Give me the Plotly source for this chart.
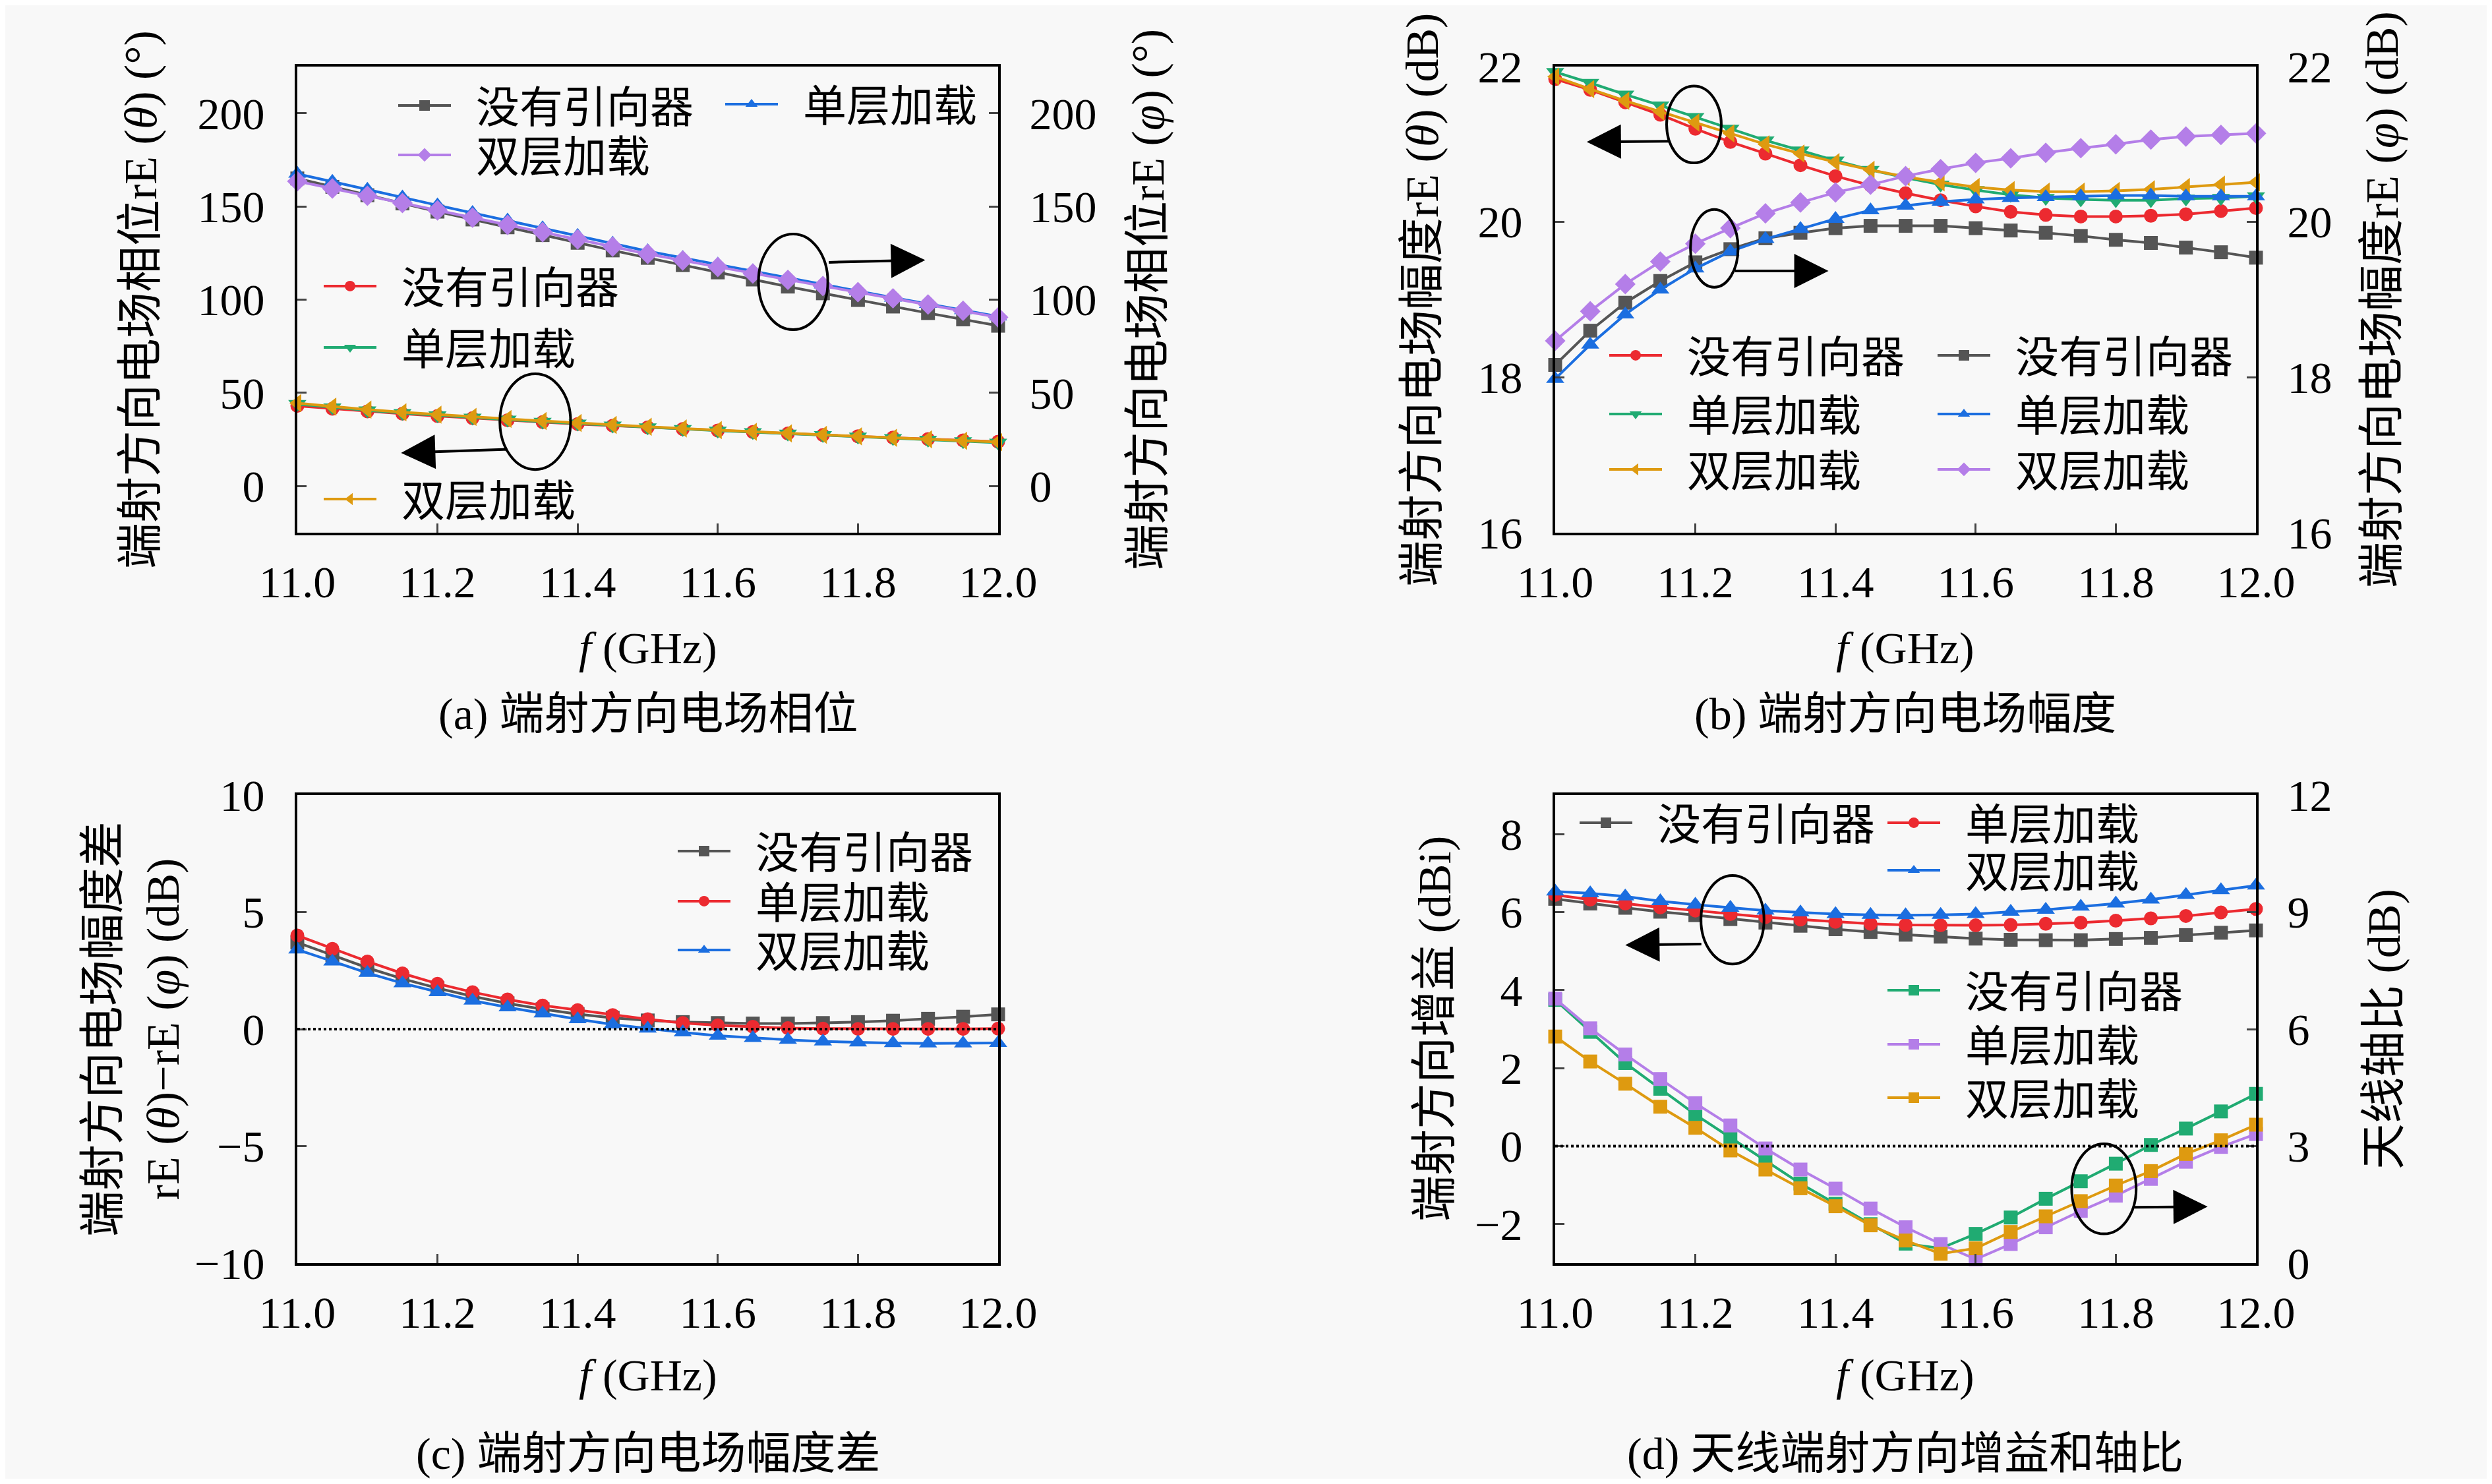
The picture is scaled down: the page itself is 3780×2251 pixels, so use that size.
import plotly.graph_objects as go

W, H = 3780, 2251
# the page body keeps an 8 px margin, so the figure is a little smaller than the window
FW, FH = W - 16, H - 16
FONT = "Liberation Serif, Noto Sans CJK SC, serif"

# frequency points (GHz)
freq = [11.0, 11.05, 11.1, 11.15, 11.2, 11.25, 11.3, 11.35, 11.4, 11.45, 11.5,
        11.55, 11.6, 11.65, 11.7, 11.75, 11.8, 11.85, 11.9, 11.95, 12.0]

# (a) phase, right axis rE(phi)
a_phi_none = [165.0, 160.5, 156.0, 151.6, 147.2, 143.0, 138.8, 134.6, 130.5, 126.4, 122.4,
              118.5, 114.6, 110.8, 107.0, 103.4, 99.8, 96.3, 92.8, 89.4, 86.0]
a_phi_single = [167.5, 163.2, 159.0, 154.8, 150.6, 146.5, 142.4, 138.3, 134.2, 130.1, 126.0,
                122.4, 118.8, 115.2, 111.6, 108.1, 104.6, 101.1, 97.7, 94.3, 91.0]
a_phi_double = [163.5, 159.6, 155.7, 151.8, 147.9, 144.0, 140.1, 136.2, 132.3, 128.4, 124.5,
                121.0, 117.5, 114.0, 110.6, 107.3, 104.0, 100.7, 97.4, 94.0, 90.5]
# (a) phase, left axis rE(theta)
a_theta_none = [43.0, 41.5, 40.1, 38.8, 37.6, 36.4, 35.3, 34.3, 33.3, 32.4, 31.5,
                30.6, 29.8, 29.0, 28.2, 27.4, 26.7, 26.0, 25.2, 24.5, 23.8]
a_theta_single = [44.0, 42.2, 40.6, 39.2, 37.9, 36.7, 35.6, 34.5, 33.5, 32.5, 31.5,
                  30.6, 29.7, 28.9, 28.1, 27.3, 26.5, 25.7, 24.9, 24.1, 23.3]
a_theta_double = [44.5, 42.6, 41.0, 39.6, 38.3, 37.1, 36.0, 34.9, 33.8, 32.8, 31.8,
                  30.9, 30.0, 29.1, 28.3, 27.5, 26.7, 25.9, 25.1, 24.3, 23.6]

# (b) magnitude, left axis rE(theta)
b_theta_none = [21.84, 21.70, 21.54, 21.38, 21.20, 21.03, 20.88, 20.73, 20.59, 20.47, 20.37,
                20.28, 20.20, 20.13, 20.09, 20.07, 20.07, 20.08, 20.10, 20.14, 20.18]
b_theta_single = [21.93, 21.79, 21.64, 21.50, 21.35, 21.20, 21.05, 20.92, 20.79, 20.67, 20.57,
                  20.48, 20.41, 20.35, 20.31, 20.29, 20.28, 20.28, 20.30, 20.31, 20.33]
b_theta_double = [21.87, 21.71, 21.56, 21.42, 21.28, 21.14, 21.00, 20.88, 20.77, 20.67, 20.58,
                  20.51, 20.45, 20.41, 20.39, 20.39, 20.40, 20.42, 20.45, 20.48, 20.51]
# (b) magnitude, right axis rE(phi)
b_phi_none = [18.16, 18.60, 18.96, 19.24, 19.48, 19.65, 19.79, 19.86, 19.92, 19.95, 19.95,
              19.95, 19.92, 19.89, 19.86, 19.82, 19.77, 19.73, 19.67, 19.61, 19.54]
b_phi_single = [17.98, 18.42, 18.81, 19.13, 19.40, 19.62, 19.78, 19.91, 20.04, 20.15, 20.21,
                20.26, 20.29, 20.31, 20.32, 20.33, 20.34, 20.34, 20.33, 20.33, 20.33]
b_phi_double = [18.47, 18.85, 19.20, 19.49, 19.72, 19.92, 20.11, 20.25, 20.38, 20.48, 20.59,
                20.68, 20.76, 20.82, 20.89, 20.95, 21.00, 21.06, 21.10, 21.12, 21.14]

# (c) magnitude difference
c_none = [3.70, 3.16, 2.62, 2.15, 1.75, 1.40, 1.10, 0.85, 0.64, 0.48, 0.37,
          0.30, 0.26, 0.24, 0.24, 0.26, 0.30, 0.36, 0.44, 0.53, 0.63]
c_single = [4.00, 3.43, 2.89, 2.38, 1.94, 1.58, 1.27, 1.01, 0.81, 0.60, 0.42,
            0.26, 0.16, 0.10, 0.04, 0.02, 0.01, 0.01, 0.01, 0.01, 0.02]
c_double = [3.40, 2.89, 2.40, 1.96, 1.58, 1.22, 0.93, 0.67, 0.42, 0.20, 0.02,
            -0.14, -0.28, -0.38, -0.46, -0.53, -0.57, -0.60, -0.61, -0.61, -0.59]

# (d) gain (dBi), left axis
d_gain_none = [6.34, 6.22, 6.11, 6.01, 5.92, 5.82, 5.73, 5.65, 5.56, 5.49, 5.42,
               5.37, 5.32, 5.29, 5.28, 5.28, 5.31, 5.34, 5.41, 5.47, 5.53]
d_gain_single = [6.44, 6.32, 6.22, 6.12, 6.04, 5.95, 5.87, 5.81, 5.75, 5.70, 5.67,
                 5.66, 5.66, 5.67, 5.70, 5.73, 5.78, 5.84, 5.90, 5.99, 6.08]
d_gain_double = [6.53, 6.48, 6.40, 6.28, 6.19, 6.11, 6.04, 5.99, 5.95, 5.93, 5.92,
                 5.93, 5.95, 6.01, 6.06, 6.14, 6.22, 6.32, 6.44, 6.56, 6.68]
# (d) axial ratio (dB), right axis
d_ar_none = [6.75, 5.93, 5.13, 4.47, 3.81, 3.22, 2.64, 2.04, 1.52, 1.00, 0.50,
             0.38, 0.75, 1.17, 1.65, 2.10, 2.55, 3.03, 3.45, 3.89, 4.34]
d_ar_single = [6.78, 6.02, 5.35, 4.72, 4.10, 3.53, 2.94, 2.40, 1.91, 1.40, 0.92,
               0.49, 0.10, 0.49, 0.92, 1.34, 1.73, 2.16, 2.60, 2.98, 3.31]
d_ar_double = [5.81, 5.17, 4.60, 4.01, 3.47, 2.89, 2.40, 1.92, 1.46, 0.97, 0.58,
               0.24, 0.38, 0.80, 1.20, 1.59, 1.99, 2.36, 2.80, 3.15, 3.55]

# colours
gray = "#555555"
blue = "#1b6ee0"
purple = "#b47ee8"
red = "#ec2a30"
green = "#20ab72"
orange = "#de9a10"
bg = "#f8f8f8"

sizes = {"square": 21, "circle": 21, "triangle-up": 24, "triangle-down": 24,
         "triangle-left": 24, "diamond": 24}


def px_x(X):
    return (X - 8) / FW


def px_y(Y):
    return 1 - (Y - 8) / FH


# name, x axis, y axis, values, colour, symbol, legend spot (px: line start, row centre)
series = [
    ("没有引向器", "x", "y2", a_phi_none, gray, "square", (607, 160)),
    ("单层加载", "x", "y2", a_phi_single, blue, "triangle-up", (1103, 158)),
    ("双层加载", "x", "y2", a_phi_double, purple, "diamond", (607, 235)),
    ("没有引向器", "x", "y", a_theta_none, red, "circle", (494, 434)),
    ("单层加载", "x", "y", a_theta_single, green, "triangle-down", (494, 527)),
    ("双层加载", "x", "y", a_theta_double, orange, "triangle-left", (494, 757)),

    ("没有引向器", "x2", "y3", b_theta_none, red, "circle", (2444, 539)),
    ("单层加载", "x2", "y3", b_theta_single, green, "triangle-down", (2444, 628)),
    ("双层加载", "x2", "y3", b_theta_double, orange, "triangle-left", (2444, 712)),
    ("没有引向器", "x2", "y4", b_phi_none, gray, "square", (2942, 539)),
    ("单层加载", "x2", "y4", b_phi_single, blue, "triangle-up", (2942, 628)),
    ("双层加载", "x2", "y4", b_phi_double, purple, "diamond", (2942, 712)),

    ("没有引向器", "x3", "y5", c_none, gray, "square", (1031, 1291)),
    ("单层加载", "x3", "y5", c_single, red, "circle", (1031, 1367)),
    ("双层加载", "x3", "y5", c_double, blue, "triangle-up", (1031, 1441)),

    ("没有引向器", "x4", "y6", d_gain_none, gray, "square", (2399, 1248)),
    ("单层加载", "x4", "y6", d_gain_single, red, "circle", (2866, 1248)),
    ("双层加载", "x4", "y6", d_gain_double, blue, "triangle-up", (2866, 1320)),
    ("没有引向器", "x4", "y7", d_ar_none, green, "square", (2866, 1502)),
    ("单层加载", "x4", "y7", d_ar_single, purple, "square", (2866, 1584)),
    ("双层加载", "x4", "y7", d_ar_double, orange, "square", (2866, 1665)),
]

fig = go.Figure()
legends = {}
for i, (name, xa, ya, vals, color, symbol, pos) in enumerate(series):
    key = "legend" if i == 0 else f"legend{i + 1}"
    fig.add_trace(go.Scatter(
        x=freq, y=vals, name="\u2002" + name, xaxis=xa, yaxis=ya, legend=key,
        mode="lines+markers", cliponaxis=False,
        line=dict(color=color, width=4),
        marker=dict(symbol=symbol, size=sizes[symbol], color=color),
    ))
    legends[key] = dict(
        x=px_x(pos[0] - 8), y=px_y(pos[1]), xanchor="left", yanchor="middle",
        bgcolor="rgba(0,0,0,0)", borderwidth=0, itemwidth=80, visible=True,
        font=dict(family=FONT, size=66, color="black"),
    )


def x_axis(domain, anchor):
    return dict(domain=domain, anchor=anchor, range=[11, 12], tick0=11, dtick=0.2,
                tickformat=".1f", ticks="inside", ticklen=14, tickwidth=3,
                showline=True, linewidth=4, linecolor="black", mirror=True,
                showgrid=False, zeroline=False, ticklabelstandoff=12,
                tickfont=dict(size=68))


def y_axis(domain, anchor, rng, dtick, side="left", overlaying=None):
    ax = dict(anchor=anchor, range=rng, dtick=dtick, tick0=0, side=side,
              ticks="inside", ticklen=14, tickwidth=3, showline=True, linewidth=4,
              linecolor="black", showgrid=False, zeroline=False,
              ticklabelstandoff=32 if side == "left" else 30,
              tickfont=dict(size=68))
    if overlaying:
        ax["overlaying"] = overlaying
    else:
        ax["domain"] = domain
        ax["mirror"] = True
    return ax


# plot areas (page px)
top = [px_y(808), px_y(101)]
bottom = [px_y(1916), px_y(1206)]
left = [px_x(451), px_x(1514)]
right = [px_x(2359), px_x(3422)]

fig.update_layout(
    width=FW, height=FH,
    margin=dict(l=0, r=0, t=0, b=0, autoexpand=False),
    showlegend=True,
    paper_bgcolor=bg, plot_bgcolor=bg,
    font=dict(family=FONT, size=64, color="black"),
    xaxis=x_axis(left, "y"),
    yaxis=y_axis(top, "x", [-25, 225], 50),
    yaxis2=y_axis(top, "x", [-25, 225], 50, side="right", overlaying="y"),
    xaxis2=x_axis(right, "y3"),
    yaxis3=y_axis(top, "x2", [16, 22], 2),
    yaxis4=y_axis(top, "x2", [16, 22], 2, side="right", overlaying="y3"),
    xaxis3=x_axis(left, "y5"),
    yaxis5=y_axis(bottom, "x3", [-10, 10], 5),
    xaxis4=x_axis(right, "y6"),
    yaxis6=y_axis(bottom, "x4", [-3, 9], 2),
    yaxis7=y_axis(bottom, "x4", [0, 12], 3, side="right", overlaying="y6"),
    **legends,
)

# axis titles, x titles and captions
texts = [
    (214, 455, "端射方向电场相位rE (<i>θ</i>) (°)", -90),
    (1742, 455, "端射方向电场相位rE (<i>φ</i>) (°)", -90),
    (2158, 455, "端射方向电场幅度rE (<i>θ</i>) (dB)", -90),
    (3614, 455, "端射方向电场幅度rE (<i>φ</i>) (dB)", -90),
    (202, 1561, "端射方向电场幅度差<br>rE (<i>θ</i>)−rE (<i>φ</i>) (dB)", -90),
    (2176, 1561, "端射方向增益 (dBi)", -90),
    (3616, 1561, "天线轴比 (dB)", -90),
    (983, 983, "<i>f</i> (GHz)", 0),
    (2890, 983, "<i>f</i> (GHz)", 0),
    (983, 2086, "<i>f</i> (GHz)", 0),
    (2890, 2086, "<i>f</i> (GHz)", 0),
    (983, 1083, "(a) 端射方向电场相位", 0),
    (2890, 1083, "(b) 端射方向电场幅度", 0),
    (983, 2205, "(c) 端射方向电场幅度差", 0),
    (2890, 2205, "(d) 天线端射方向增益和轴比", 0),
]
for px, py, txt, ang in texts:
    fig.add_annotation(x=px_x(px), y=px_y(py), xref="paper", yref="paper", text=txt,
                       textangle=ang, showarrow=False, xanchor="center", yanchor="middle",
                       font=dict(family=FONT, size=70 if ang else 68, color="black"))

# ellipses marking curve groups, with arrows to the matching axis
ellipses = [
    ("x", "y2", 11.658, 11.757, 83.9, 135.2),
    ("x", "y", 11.289, 11.390, 8.9, 60.2),
    ("x2", "y3", 11.159, 11.237, 20.76, 21.75),
    ("x2", "y4", 11.193, 11.261, 19.16, 20.16),
    ("x4", "y6", 11.208, 11.298, 4.67, 6.94),
    ("x4", "y7", 11.737, 11.829, 0.75, 3.06),
]
for xr, yr, x0, x1, y0, y1 in ellipses:
    fig.add_shape(type="circle", xref=xr, yref=yr, x0=x0, x1=x1, y0=y0, y1=y1,
                  line=dict(color="black", width=4))

arrows = [
    ("x", "y2", 11.757, 120.0, 11.896, 121.2),
    ("x", "y", 11.300, 19.7, 11.148, 17.8),
    ("x2", "y3", 11.165, 21.04, 11.045, 21.03),
    ("x2", "y4", 11.255, 19.37, 11.390, 19.37),
    ("x4", "y6", 11.210, 5.18, 11.100, 5.155),
    ("x4", "y7", 11.825, 1.43, 11.931, 1.45),
]
for xr, yr, tx, ty, hx, hy in arrows:
    fig.add_annotation(x=hx, y=hy, ax=tx, ay=ty, xref=xr, yref=yr, axref=xr, ayref=yr,
                       text="", showarrow=True, arrowhead=2, arrowsize=2.6,
                       arrowwidth=4, arrowcolor="black")

# zero reference lines
fig.add_shape(type="line", xref="x3", yref="y5", x0=11, x1=12, y0=0, y1=0,
              line=dict(color="black", width=4, dash="dot"))
fig.add_shape(type="line", xref="x4", yref="y6", x0=11, x1=12, y0=0, y1=0,
              line=dict(color="black", width=4, dash="dot"))

fig.write_html("out.html")
